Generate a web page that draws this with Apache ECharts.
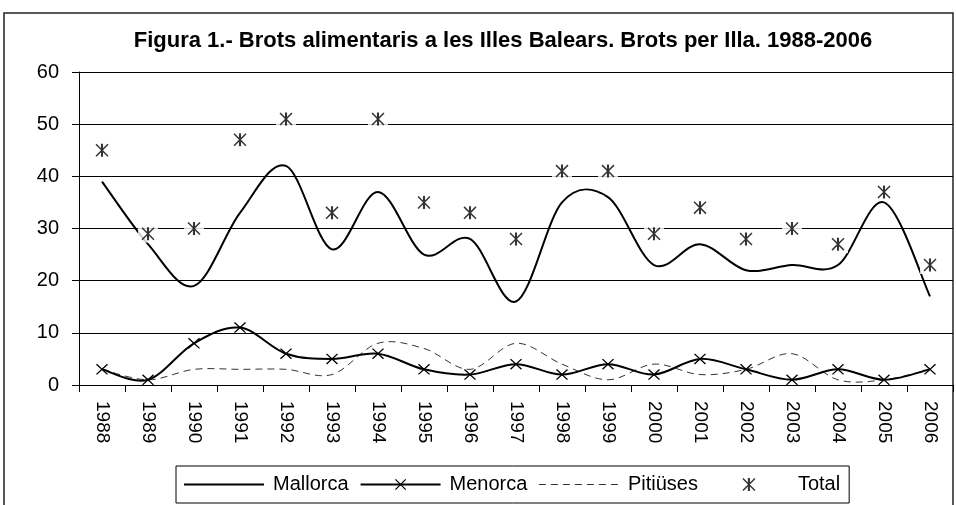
<!DOCTYPE html>
<html>
<head>
<meta charset="utf-8">
<script src="https://cdn.jsdelivr.net/npm/echarts@6/dist/echarts.min.js"></script>
<style>
html,body{margin:0;padding:0;background:#fff;}
#chart{width:956px;height:505px;}
</style>
</head>
<body>
<div id="chart"></div>
<script>
var titleText = 'Figura 1.- Brots alimentaris a les Illes Balears. Brots per Illa. 1988-2006';
var years = ['1988','1989','1990','1991','1992','1993','1994','1995','1996','1997','1998','1999','2000','2001','2002','2003','2004','2005','2006'];
var mallorca = [39,27,19,33,42,26,37,25,28,16,35,36,23,27,22,23,23,35,17];
var menorca  = [3,1,8,11,6,5,6,3,2,4,2,4,2,5,3,1,3,1,3];
var pitiuses = [3,1,3,3,3,2,8,7,3,8,4,1,4,2,3,6,1,1,3];
var total    = [45,29,30,47,51,33,51,35,33,28,41,41,29,34,28,30,27,37,23];
var yTicks = [0,10,20,30,40,50,60];

var FONT = 'Liberation Sans, Arial, sans-serif';

function starStr(x0, y0, S, d) {
  function X(v) { return (x0 + v * S / 100).toFixed(2); }
  function Y(v) { return (y0 + v * S / 100).toFixed(2); }
  return 'M' + X(0) + ' ' + Y(d) + ' L' + X(d) + ' ' + Y(0) + ' L' + X(100) + ' ' + Y(100 - d) + ' L' + X(100 - d) + ' ' + Y(100) + ' Z ' +
         'M' + X(100 - d) + ' ' + Y(0) + ' L' + X(100) + ' ' + Y(d) + ' L' + X(d) + ' ' + Y(100) + ' L' + X(0) + ' ' + Y(100 - d) + ' Z ' +
         'M' + X(50 - d) + ' ' + Y(0) + ' L' + X(50 + d) + ' ' + Y(0) + ' L' + X(50 + d) + ' ' + Y(100) + ' L' + X(50 - d) + ' ' + Y(100) + ' Z';
}
var xPath = 'path://M0 8 L8 0 L100 92 L92 100 Z M92 0 L100 8 L8 100 L0 92 Z';
var starPath = 'path://' + starStr(0, 0, 100, 8);
// legend icon: 80x14 box (scaled x10) with asterisk centered
var starLegend = 'path://M0 0 L0.3 0 L0.3 0.3 Z M799.7 139.7 L800 139.7 L800 140 Z ' + starStr(335, 5, 130, 8);

// Excel-like smoothed curve through data points (Catmull-Rom style bezier)
function curveSeries(arr, style, z) {
  return {
    type: 'custom',
    name: '_curve',
    data: arr.map(function (v, i) { return [i, v]; }),
    encode: {x: 0, y: 1},
    z: z, silent: true, clip: false,
    renderItem: function (params, api) {
      if (params.dataIndex !== 0) return null;
      var n = arr.length;
      function P(k) { k = Math.max(0, Math.min(n - 1, k)); return api.coord([k, arr[k]]); }
      var p = P(0);
      var d = 'M' + p[0] + ' ' + p[1];
      var t = 1 / 6;
      for (var i = 0; i < n - 1; i++) {
        var p0 = P(i - 1), p1 = P(i), p2 = P(i + 1), p3 = P(i + 2);
        var c1x = p1[0] + (p2[0] - p0[0]) * t, c1y = p1[1] + (p2[1] - p0[1]) * t;
        var c2x = p2[0] - (p3[0] - p1[0]) * t, c2y = p2[1] - (p3[1] - p1[1]) * t;
        d += ' C' + c1x + ' ' + c1y + ' ' + c2x + ' ' + c2y + ' ' + p2[0] + ' ' + p2[1];
      }
      return {type: 'path', shape: {pathData: d}, style: style};
    }
  };
}

var chart = echarts.init(document.getElementById('chart'), null, {renderer: 'canvas'});
chart.setOption({
  animation: false,
  backgroundColor: '#fff',
  graphic: [
    {type: 'rect', shape: {x: 4, y: 13, width: 949, height: 600},
     style: {fill: 'none', stroke: '#222', lineWidth: 1.5}, z: 0, silent: true},
    {type: 'text', x: 503, y: 41,
     style: {text: titleText, font: 'bold 22px ' + FONT, fill: '#000',
             textAlign: 'center', textVerticalAlign: 'middle'}, z: 10}
  ],
  grid: {left: 79, right: 3, top: 72, bottom: 120, containLabel: false},
  xAxis: {
    type: 'category',
    data: years,
    boundaryGap: true,
    axisLine: {lineStyle: {color: '#000', width: 1}},
    axisTick: {show: true, length: 7, alignWithLabel: false, lineStyle: {color: '#000'}},
    axisLabel: {rotate: -90, margin: 16, fontSize: 19, fontFamily: FONT, color: '#000'},
    splitLine: {show: false}
  },
  yAxis: {
    type: 'value',
    min: yTicks[0], max: yTicks[yTicks.length - 1], interval: 10,
    axisLine: {show: true, lineStyle: {color: '#000', width: 1}},
    axisTick: {show: true, length: 7, lineStyle: {color: '#000'}},
    axisLabel: {margin: 20, fontSize: 20, fontFamily: FONT, color: '#000'},
    splitLine: {show: true, lineStyle: {color: '#000', width: 1}}
  },
  legend: {
    data: [
      {name: 'Mallorca', itemStyle: {opacity: 0}, lineStyle: {color: '#000', width: 2, opacity: 1}},
      {name: 'Menorca', lineStyle: {color: '#000', width: 2, opacity: 1}},
      {name: 'Pitiüses', itemStyle: {opacity: 0}, lineStyle: {color: '#333', width: 1, type: [7, 5], opacity: 1}},
      {name: 'Total', icon: starLegend, itemStyle: {color: '#000'}}
    ],
    left: 176, top: 466,
    orient: 'horizontal',
    padding: [8, 9, 8, 7],
    itemWidth: 80, itemHeight: 14, itemGap: 11,
    borderColor: '#000', borderWidth: 1,
    textStyle: {fontSize: 20, fontFamily: FONT, color: '#000', padding: [0, 0, 0, 4], lineHeight: 21},
    selectedMode: false
  },
  series: [
    curveSeries(pitiuses, {stroke: '#333', fill: null, lineWidth: 1, lineDash: [7, 5]}, 2),
    curveSeries(mallorca, {stroke: '#000', fill: null, lineWidth: 2}, 3),
    curveSeries(menorca, {stroke: '#000', fill: null, lineWidth: 2}, 4),
    {name: 'Pitiüses', type: 'line', data: pitiuses, symbol: 'none',
     lineStyle: {color: '#333', width: 1, type: [7, 5], opacity: 0}, itemStyle: {color: '#333'}, z: 2},
    {name: 'Mallorca', type: 'line', data: mallorca, symbol: 'none',
     lineStyle: {color: '#000', width: 2, opacity: 0}, itemStyle: {color: '#000'}, z: 3},
    {name: 'Menorca', type: 'line', data: menorca, symbol: xPath, symbolSize: [12, 11],
     showSymbol: true, lineStyle: {color: '#000', width: 2, opacity: 0}, itemStyle: {color: '#000', borderWidth: 0}, z: 5},
    {name: '_bg', type: 'scatter', data: total, symbol: 'rect', symbolSize: [20, 18],
     itemStyle: {color: '#fff'}, silent: true, z: 6},
    {name: 'Total', type: 'scatter', data: total, symbol: starPath, symbolSize: 13, symbolKeepAspect: true,
     itemStyle: {color: '#000', borderWidth: 0}, z: 7}
  ]
});
</script>
</body>
</html>
